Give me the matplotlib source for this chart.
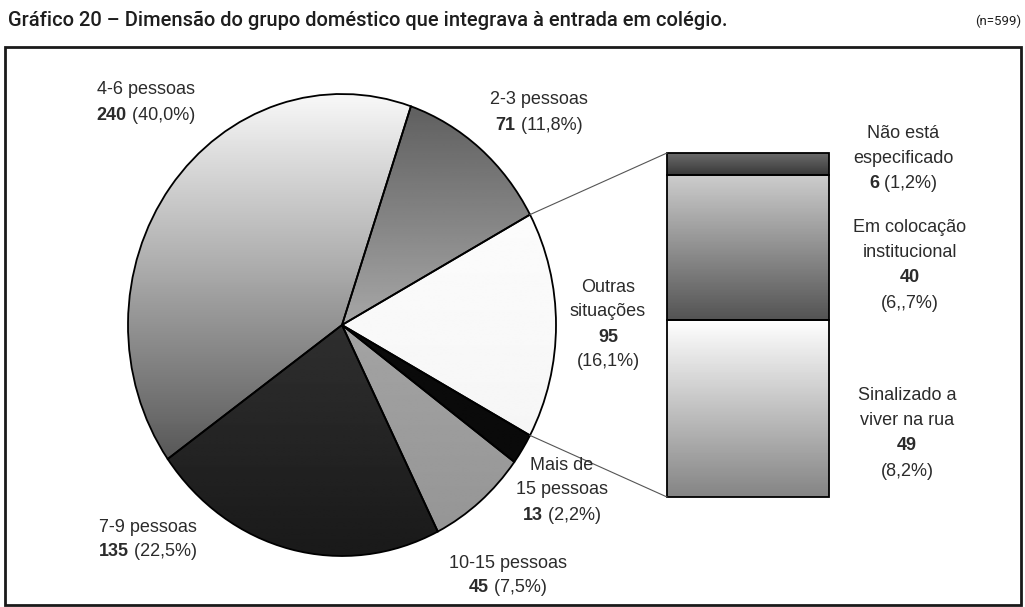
import numpy as np
import matplotlib
matplotlib.use('Agg')
import matplotlib.pyplot as plt
from matplotlib.patches import Rectangle

# ---- data ----
slice_names = ['2-3 pessoas', '4-6 pessoas', '7-9 pessoas', '10-15 pessoas',
               'Mais de\n15 pessoas', 'Outras\nsituações']
slice_counts = [71, 240, 135, 45, 13, 95]
slice_pcts = ['(11,8%)', '(40,0%)', '(22,5%)', '(7,5%)', '(2,2%)', '(16,1%)']

sub_names = ['Sinalizado a\nviver na rua', 'Em colocação\ninstitucional', 'Não está\nespecificado']
sub_counts = [49, 40, 6]
sub_pcts = ['(8,2%)', '(6,,7%)', '(1,2%)']

title = 'Gráfico 20 – Dimensão do grupo doméstico que integrava à entrada em colégio.'
n_note = '(n=599)'

# grey gradient (top, bottom) per slice / segment
slice_grad = [(0.36, 0.95), (0.97, 0.18), (0.27, 0.10), (0.70, 0.58), (0.04, 0.04), (1.0, 0.95)]
sub_grad = [(1.0, 0.52), (0.80, 0.33), (0.42, 0.22)]

W, H = 1025, 607
fig = plt.figure(figsize=(W / 100, H / 100), dpi=100)
fig.patch.set_facecolor('white')

TXT = dict(family=['Liberation Sans', 'DejaVu Sans'], fontsize=13, color='#2b2b2b')
HEAD = ['Roboto', 'DejaVu Sans']

# pie (elliptical in the original)
cx, cy, rx, ry = 342, 325, 214, 231
pad = 1.02
pie_ax = fig.add_axes([(cx - rx * pad) / W, (H - cy - ry * pad) / H,
                       2 * rx * pad / W, 2 * ry * pad / H])
share_other = slice_counts[-1] / sum(slice_counts)
start = 180 * share_other
wedges, _ = pie_ax.pie(slice_counts, startangle=start, counterclock=True,
                       wedgeprops=dict(edgecolor='black', linewidth=1.3, facecolor='none'))
pie_ax.set_aspect('auto')
pie_ax.set_xlim(-pad, pad)
pie_ax.set_ylim(-pad, pad)
pie_ax.axis('off')
for w, (top, bot) in zip(wedges, slice_grad):
    grad = np.linspace(bot, top, 200).reshape(-1, 1)
    im = pie_ax.imshow(grad, cmap='gray', vmin=0, vmax=1, extent=(-1, 1, -1, 1),
                       origin='lower', aspect='auto', interpolation='bilinear', zorder=0)
    im.set_clip_path(w)
    w.set_zorder(2)

# bar of "outras situações"
bx0, bx1, by0, by1 = 667, 829, 153, 497
bar_ax = fig.add_axes([bx0 / W, (H - by1) / H, (bx1 - bx0) / W, (by1 - by0) / H])
bottoms = np.concatenate([[0], np.cumsum(sub_counts)[:-1]])
bars = bar_ax.bar([0] * len(sub_counts), sub_counts, bottom=bottoms, width=1.0,
                  facecolor='none', edgecolor='black', linewidth=1.3, zorder=3)
for b, bt, v, (top, bot) in zip(bars, bottoms, sub_counts, sub_grad):
    b.set_clip_on(False)
    grad = np.linspace(bot, top, 100).reshape(-1, 1)
    bar_ax.imshow(grad, cmap='gray', vmin=0, vmax=1, extent=(-0.5, 0.5, bt, bt + v),
                  origin='lower', aspect='auto', interpolation='bilinear', zorder=1)
bar_ax.set_xlim(-0.5, 0.5)
bar_ax.set_ylim(0, sum(sub_counts))
bar_ax.axis('off')

# overlay in pixel coordinates for frame, connectors and labels
ov = fig.add_axes([0, 0, 1, 1], zorder=5)
ov.set_xlim(0, W)
ov.set_ylim(H, 0)
ov.axis('off')
ov.patch.set_alpha(0)

ov.add_patch(Rectangle((5, 47), 1016, 558, fill=False, edgecolor='#1a1a1a', linewidth=2))

a = np.deg2rad(start)
for sgn, by in [(1, by0), (-1, by1)]:
    px = cx + rx * np.cos(a)
    py = cy - sgn * ry * np.sin(a)
    ov.plot([px, bx0], [py, by], color='#555555', linewidth=0.8)

ov.text(8, 20, title, ha='left', va='center', fontsize=14.5, fontweight='medium',
        family=HEAD, color='#1e1e1e')
ov.text(1021, 21, n_note, ha='right', va='center', fontsize=9.5,
        family=HEAD, color='#1e1e1e')

renderer = fig.canvas.get_renderer()


def mixed(x, y, bold, rest):
    tb = ov.text(0, y, bold, ha='left', va='center', fontweight='bold', **TXT)
    tr = ov.text(0, y, ' ' + rest, ha='left', va='center', **TXT)
    wb = tb.get_window_extent(renderer).width
    wr = tr.get_window_extent(renderer).width
    x0 = x - (wb + wr) / 2
    tb.set_x(x0)
    tr.set_x(x0 + wb)


def label(x, y, name, count, pct, split=False, step=25):
    lines = name.split('\n')
    for i, ln in enumerate(lines):
        ov.text(x, y + i * step, ln, ha='center', va='center', **TXT)
    y2 = y + len(lines) * step
    if split:
        ov.text(x, y2, str(count), ha='center', va='center', fontweight='bold', **TXT)
        ov.text(x, y2 + step, pct, ha='center', va='center', **TXT)
    else:
        mixed(x, y2, str(count), pct)


# label anchors (layout only)
slice_pos = [(539, 100, False), (146, 90, False), (148, 527, False),
             (508, 563, False), (562, 465, False), (608, 287, True)]
for (x, y, sp), nm, c, p in zip(slice_pos, slice_names, slice_counts, slice_pcts):
    label(x, y, nm, c, p, split=sp)

sub_pos = [(907, 395, True), (910, 227, True), (903, 133, False)]
for (x, y, sp), nm, c, p in zip(sub_pos, sub_names, sub_counts, sub_pcts):
    label(x, y, nm, c, p, split=sp, step=25.5)

fig.savefig('out.png', dpi=100)
